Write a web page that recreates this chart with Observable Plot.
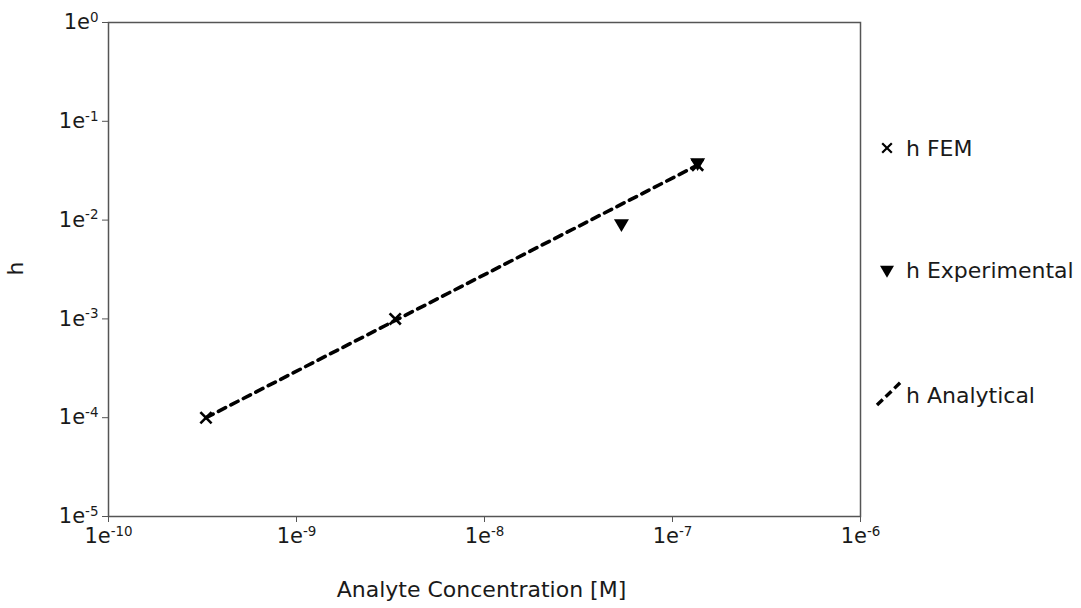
<!DOCTYPE html>
<html><head><meta charset="utf-8">
<script src="https://cdn.jsdelivr.net/npm/d3@7"></script>
<script src="https://cdn.jsdelivr.net/npm/@observablehq/plot@0.6"></script>
<style>
body{margin:0;background:#fff;}
#wrap{position:relative;width:1081px;height:608px;}
</style>
</head><body><div id="wrap"></div>
<script>
// Data
const femX = [3.3e-10, 3.35e-9, 1.36e-7];
const femH = [1.0e-4, 1.0e-3, 0.036];
const expX = [5.35e-8, 1.36e-7];
const expH = [0.0092, 0.038];
const anaX = [3.3e-10, 1.36e-7];
const anaH = [1.0e-4, 0.036];
const xTicks = [1e-10, 1e-9, 1e-8, 1e-7, 1e-6];
const yTicks = [1e0, 1e-1, 1e-2, 1e-3, 1e-4, 1e-5];
const xExp = ["-10", "-9", "-8", "-7", "-6"];
const yExp = ["0", "-1", "-2", "-3", "-4", "-5"];
const legendLabels = ["h FEM", "h Experimental", "h Analytical"];

const fem = femX.map((x, i) => ({x, h: femH[i]}));
const exp = expX.map((x, i) => ({x, h: expH[i]}));
const ana = anaX.map((x, i) => ({x, h: anaH[i]}));

const timesSym = {draw(ctx, size) {
  const a = Math.sqrt(size / Math.PI) * 0.8;
  ctx.moveTo(-a, -a); ctx.lineTo(a, a);
  ctx.moveTo(a, -a); ctx.lineTo(-a, a);
}};
const triDownSym = {draw(ctx, size) {
  const r = Math.sqrt(size / Math.PI);
  ctx.moveTo(-r, -r * 0.6); ctx.lineTo(r, -r * 0.6); ctx.lineTo(0, r * 1.1); ctx.closePath();
}};

const fmtX = d => "1e" + xExp[xTicks.indexOf(d)];
const fmtY = d => "1e" + yExp[yTicks.indexOf(d)];

const chart = Plot.plot({
  width: 1081, height: 608,
  marginLeft: 108, marginRight: 221, marginTop: 22, marginBottom: 92,
  style: {fontFamily: "DejaVu Sans", fontSize: "21px", color: "#1a1a1a", background: "#fff"},
  x: {type: "log", domain: [1e-10, 1e-6]},
  y: {type: "log", domain: [1e-5, 1]},
  marks: [
    Plot.frame({stroke: "#555", strokeWidth: 1.5}),
    Plot.axisX({ticks: xTicks, tickFormat: fmtX, tickSize: 6, tickPadding: 6, stroke: "#555", fontSize: 21,
      label: null}),
    Plot.axisY({ticks: yTicks, tickFormat: fmtY, tickSize: 6, tickPadding: 4, stroke: "#555", fontSize: 21,
      label: null}),
    Plot.text(["Analyte Concentration [M]"], {frameAnchor: "bottom", dx: -3, dy: 80, fontSize: 22, fill: "#1a1a1a"}),
    Plot.text(["h"], {frameAnchor: "left", dx: -93, dy: 6, rotate: -90, fontSize: 22, fill: "#1a1a1a"}),
    Plot.line(ana, {x: "x", y: "h", stroke: "black", strokeWidth: 3.6, strokeDasharray: "8,6"}),
    Plot.dot(exp, {x: "x", y: "h", symbol: triDownSym, r: 7.5, fill: "black", stroke: "none"}),
    Plot.dot(fem, {x: "x", y: "h", symbol: timesSym, r: 7, fill: "none", stroke: "black", strokeWidth: 2.6})
  ]
});
document.getElementById("wrap").appendChild(chart);

const svg = d3.select(chart);
svg.selectAll('g[aria-label="x-axis tick label"] text, g[aria-label="y-axis tick label"] text').each(function() {
  const t = this.textContent;
  const m = t.match(/^1e(.*)$/);
  if (!m) return;
  const el = d3.select(this);
  el.text("");
  el.append("tspan").text("1e");
  el.append("tspan").attr("dy", "-0.55em").attr("font-size", "0.64em").text(m[1]);
});

// Legend (right side)
const lg = svg.append("g").attr("font-family", "DejaVu Sans").attr("font-size", 22).attr("fill", "#1a1a1a").attr("text-anchor", "start");
const ys = [148, 270, 395];
const p = d3.path(); timesSym.draw(p, Math.PI * 6 * 6);
lg.append("path").attr("d", p.toString()).attr("transform", `translate(887,${ys[0]})`).attr("stroke", "black").attr("stroke-width", 2.2).attr("fill", "none");
const q = d3.path(); triDownSym.draw(q, Math.PI * 7 * 7);
lg.append("path").attr("d", q.toString()).attr("transform", `translate(887,${ys[1]})`).attr("fill", "black");
lg.append("line").attr("x1", 877).attr("y1", 405).attr("x2", 902).attr("y2", 381).attr("stroke", "black").attr("stroke-width", 3.4).attr("stroke-dasharray", "8,4");
legendLabels.forEach((s, i) => {
  lg.append("text").attr("x", 906).attr("y", ys[i]).attr("dy", "0.35em").text(s);
});
</script>
</body></html>
